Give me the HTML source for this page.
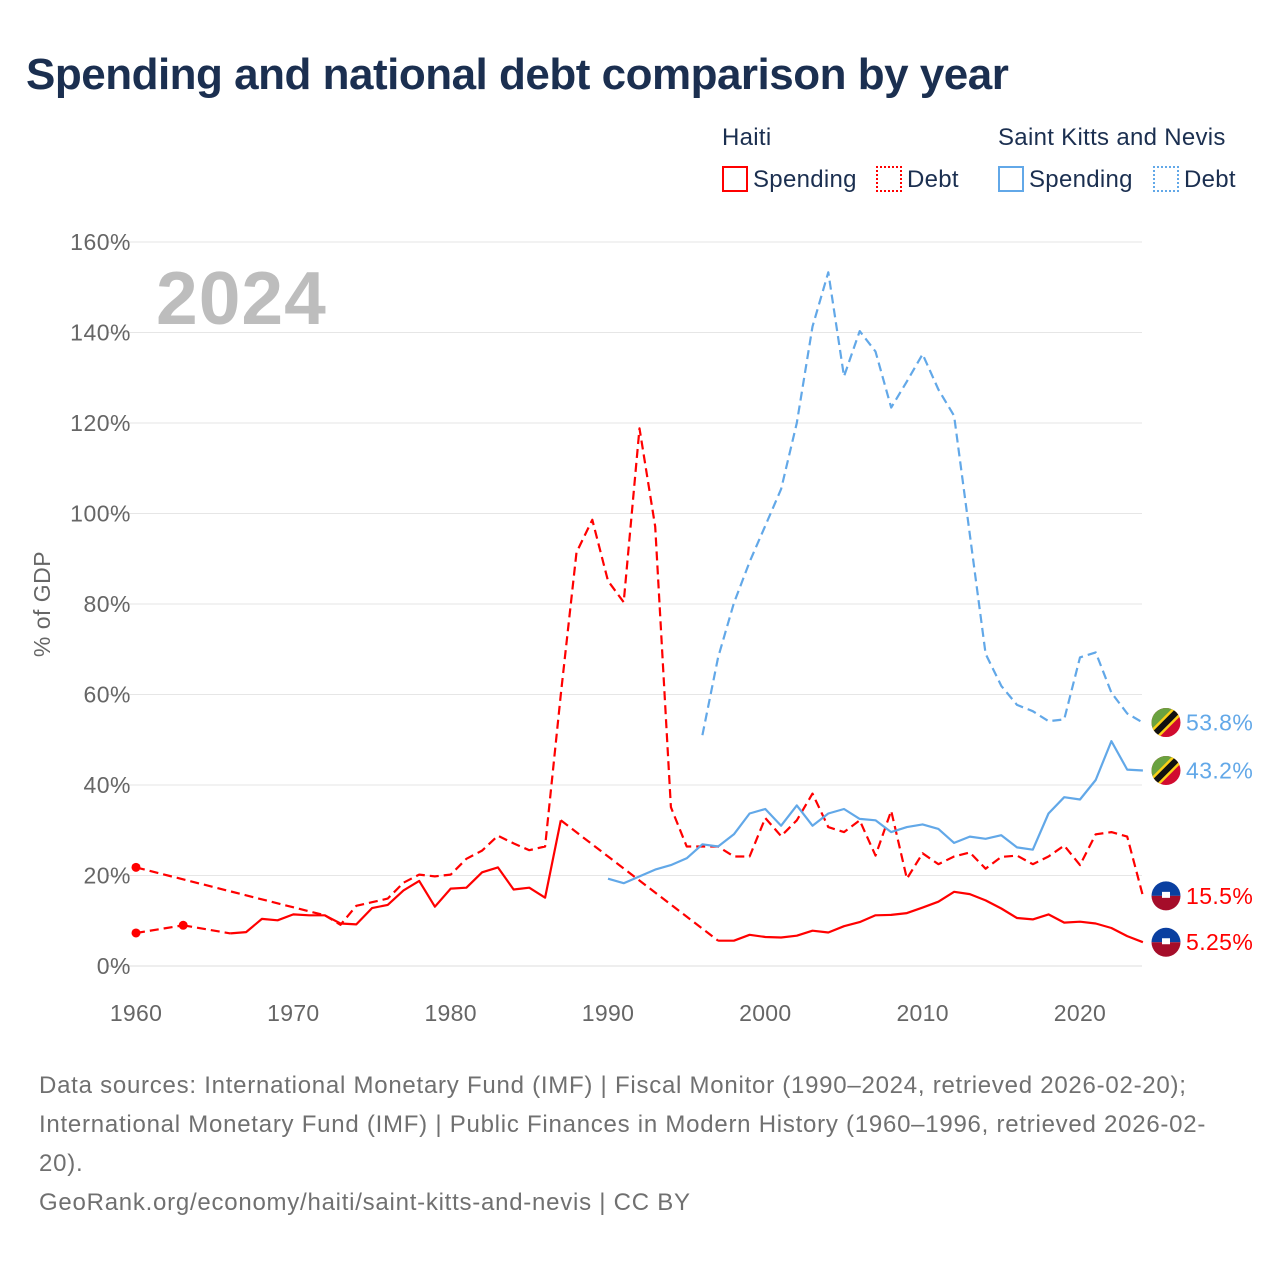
<!DOCTYPE html>
<html><head><meta charset="utf-8">
<style>
body{margin:0;background:#fff;font-family:"Liberation Sans",sans-serif;}
#wrap{position:relative;width:1280px;height:1280px;overflow:hidden;}
.t{position:absolute;white-space:nowrap;}
</style></head><body>
<div id="wrap">
<div class="t" style="left:26px;top:50px;font-size:44px;font-weight:bold;color:#1b2f50;letter-spacing:-0.5px;">Spending and national debt comparison by year</div>
<div class="t" style="left:722px;top:124px;font-size:24px;color:#1b2f50;letter-spacing:0.3px;">Haiti</div>
<div class="t" style="left:998px;top:124px;font-size:24px;color:#1b2f50;letter-spacing:0.3px;">Saint Kitts and Nevis</div>
<div class="t" style="left:722px;top:166px;font-size:24px;color:#1b2f50;letter-spacing:0.3px;"><span style="display:inline-block;width:26px;height:26px;border:2px solid #ff0000;vertical-align:-5px;margin-right:5px;box-sizing:border-box;"></span>Spending</div>
<div class="t" style="left:876px;top:166px;font-size:24px;color:#1b2f50;letter-spacing:0.3px;"><span style="display:inline-block;width:26px;height:26px;border:2px dotted #ff0000;vertical-align:-5px;margin-right:5px;box-sizing:border-box;"></span>Debt</div>
<div class="t" style="left:998px;top:166px;font-size:24px;color:#1b2f50;letter-spacing:0.3px;"><span style="display:inline-block;width:26px;height:26px;border:2px solid #62a8e8;vertical-align:-5px;margin-right:5px;box-sizing:border-box;"></span>Spending</div>
<div class="t" style="left:1153px;top:166px;font-size:24px;color:#1b2f50;letter-spacing:0.3px;"><span style="display:inline-block;width:26px;height:26px;border:2px dotted #62a8e8;vertical-align:-5px;margin-right:5px;box-sizing:border-box;"></span>Debt</div>
<svg id="chart" width="1280" height="1280" style="position:absolute;left:0;top:0;"></svg>
<div class="t" style="left:39px;top:1066px;font-size:24px;line-height:39px;color:#707070;letter-spacing:0.75px;">Data sources: International Monetary Fund (IMF) | Fiscal Monitor (1990–2024, retrieved 2026-02-20);<br>International Monetary Fund (IMF) | Public Finances in Modern History (1960–1996, retrieved 2026-02-<br>20).<br>GeoRank.org/economy/haiti/saint-kitts-and-nevis | CC BY</div>
</div>
<script>
const years = [];for(let y=1960;y<=2024;y++)years.push(y);
const yTicks=[0,20,40,60,80,100,120,140,160];
const xTicks=[1960,1970,1980,1990,2000,2010,2020];
// values indexed by year from 1960; null = missing
const haitiSpending=[7.3,null,null,9.0,null,null,7.2,7.5,10.4,10.1,11.4,11.2,11.2,9.4,9.2,12.8,13.5,16.7,18.8,13.1,17.1,17.3,20.7,21.8,16.9,17.3,15.1,32.2,null,null,null,null,null,null,null,null,null,5.6,5.6,6.9,6.4,6.3,6.7,7.8,7.4,8.8,9.7,11.2,11.3,11.7,12.9,14.2,16.4,15.9,14.5,12.7,10.6,10.3,11.4,9.6,9.8,9.4,8.4,6.6,5.25];
const haitiDebt=[21.8,null,null,null,null,null,null,null,null,null,null,null,11.2,9.1,13.3,14.1,14.9,18.4,20.2,19.8,20.2,23.7,25.5,28.8,27.1,25.6,26.4,60,91.4,98.6,85.1,80.4,118.8,97.1,35.1,26.4,26.4,26.4,24.2,24.2,32.7,28.7,32.2,38.1,30.7,29.6,32.2,24.4,34.3,19.3,24.9,22.5,24.2,25.1,21.5,24.1,24.4,22.5,24.2,26.6,22.3,29.1,29.6,28.6,15.5];
const sknSpending=[null,null,null,null,null,null,null,null,null,null,null,null,null,null,null,null,null,null,null,null,null,null,null,null,null,null,null,null,null,null,19.3,18.3,19.8,21.3,22.3,23.8,26.9,26.4,29.1,33.7,34.7,31.0,35.5,31.0,33.7,34.7,32.5,32.2,29.6,30.7,31.3,30.3,27.2,28.6,28.1,28.9,26.2,25.7,33.7,37.3,36.8,41.1,49.7,43.4,43.2];
const sknDebt=[null,null,null,null,null,null,null,null,null,null,null,null,null,null,null,null,null,null,null,null,null,null,null,null,null,null,null,null,null,null,null,null,null,null,null,null,51.0,68.2,80.2,89.3,97.3,105.4,120.0,141.3,153.3,130.3,140.3,135.8,123.4,129.2,135.2,127.4,121.6,95.4,69.0,61.9,57.7,56.3,54.1,54.5,68.2,69.3,60.4,55.8,53.8];
const endLabels=["53.8%","43.2%","15.5%","5.25%"];

const NS="http://www.w3.org/2000/svg";
const svg=document.getElementById('chart');
const X=y=>136+(y-1960)*15.733;
const Y=v=>966-v*4.525;
function el(t,a,p){const e=document.createElementNS(NS,t);for(const k in a)e.setAttribute(k,a[k]);(p||svg).appendChild(e);return e;}
const RED="#ff0000",BLUE="#62a8e8";
yTicks.forEach(v=>{
 const g=el('line',{x1:108,x2:1142,y1:Y(v),y2:Y(v),stroke:v===0?'#dcdcdc':'#e6e6e6','stroke-width':1});
 
 
 const t=el('text',{x:131,y:Y(v)+8,'text-anchor':'end','font-size':23,fill:'#666','letter-spacing':'0.5','font-family':'Liberation Sans, sans-serif'});
 t.textContent=v+'%';
 
 
});
xTicks.forEach(y=>{
 const t=el('text',{x:X(y),y:1021,'text-anchor':'middle','font-size':23,fill:'#666','letter-spacing':'0.3','font-family':'Liberation Sans, sans-serif'});
 t.textContent=y;
 
 
});
const yt=el('text',{x:0,y:0,transform:'translate(50,604) rotate(-90)','text-anchor':'middle','font-size':23,fill:'#666','letter-spacing':'0.5','font-family':'Liberation Sans, sans-serif'});
yt.textContent='% of GDP';


const yr=el('text',{x:156,y:324,'font-size':75,'font-weight':'bold',fill:'#bdbdbd','letter-spacing':'1','font-family':'Liberation Sans, sans-serif'});
yr.textContent='2024';



function drawSeries(vals,color,dashed,name){
 const g=el('g',{});
 
 
 let prev=-1;let seg=[];const segs=[];const bridges=[];
 vals.forEach((v,i)=>{
  if(v==null)return;
  if(prev>=0){
   if(i-prev===1){seg.push([i,v]);}
   else{ if(seg.length)segs.push(seg); bridges.push([[prev,vals[prev]],[i,v]]); seg=[[i,v]]; }
  }else seg=[[i,v]];
  prev=i;
 });
 if(seg.length)segs.push(seg);
 const path=s=>s.map((p,k)=>(k?'L':'M')+X(1960+p[0]).toFixed(1)+' '+Y(p[1]).toFixed(1)).join(' ');
 segs.forEach(s=>{
  if(s.length===1){const c=el('circle',{cx:X(1960+s[0][0]),cy:Y(s[0][1]),r:4.5,fill:color},g);return;}
  const a={d:path(s),fill:'none',stroke:color,'stroke-width':2.2,'stroke-linejoin':'round'};
  if(dashed)a['stroke-dasharray']='9 5';
  const p=el('path',a,g);
 });
 bridges.forEach(b=>{
  const p=el('path',{d:path(b),fill:'none',stroke:color,'stroke-width':2.2,'stroke-dasharray':'9 5'},g);
  
 });
}
drawSeries(haitiDebt,RED,true,'haiti-debt-line');
drawSeries(haitiSpending,RED,false,'haiti-spending-line');
drawSeries(sknSpending,BLUE,false,'skn-spending-line');
drawSeries(sknDebt,BLUE,true,'skn-debt-line');

const defs=el('defs',{});
const cp=el('clipPath',{id:'fc'},defs);el('circle',{cx:0,cy:0,r:14.5},cp);
function flag(type,v,label,color,name){
 const g=el('g',{transform:`translate(1166,${Y(v)})`});
 
 
 const inner=el('g',{'clip-path':'url(#fc)'},g);
 if(type==='skn'){
  el('rect',{x:-15,y:-15,width:30,height:30,fill:'#d10b2f'},inner);
  el('polygon',{points:'-15,-15 15,-15 -15,15',fill:'#6aa240'},inner);
  el('line',{x1:-16,y1:16,x2:16,y2:-16,stroke:'#fcd116','stroke-width':11},inner);
  el('line',{x1:-16,y1:16,x2:16,y2:-16,stroke:'#111','stroke-width':6},inner);
 }else{
  el('rect',{x:-15,y:-15,width:30,height:15,fill:'#0a3fa0'},inner);
  el('rect',{x:-15,y:0,width:30,height:15,fill:'#a50d2a'},inner);
  el('rect',{x:-4,y:-4,width:8,height:6,fill:'#fff'},inner);
 }
 const t=el('text',{x:20,y:8,'font-size':23,fill:color,'letter-spacing':'0.4','font-family':'Liberation Sans, sans-serif'},g);
 t.textContent=label;
}
flag('skn',sknDebt[64],endLabels[0],BLUE,'end-label-skn-debt');
flag('skn',sknSpending[64],endLabels[1],BLUE,'end-label-skn-spending');
flag('haiti',haitiDebt[64],endLabels[2],RED,'end-label-haiti-debt');
flag('haiti',haitiSpending[64],endLabels[3],RED,'end-label-haiti-spending');
</script>
</body></html>
